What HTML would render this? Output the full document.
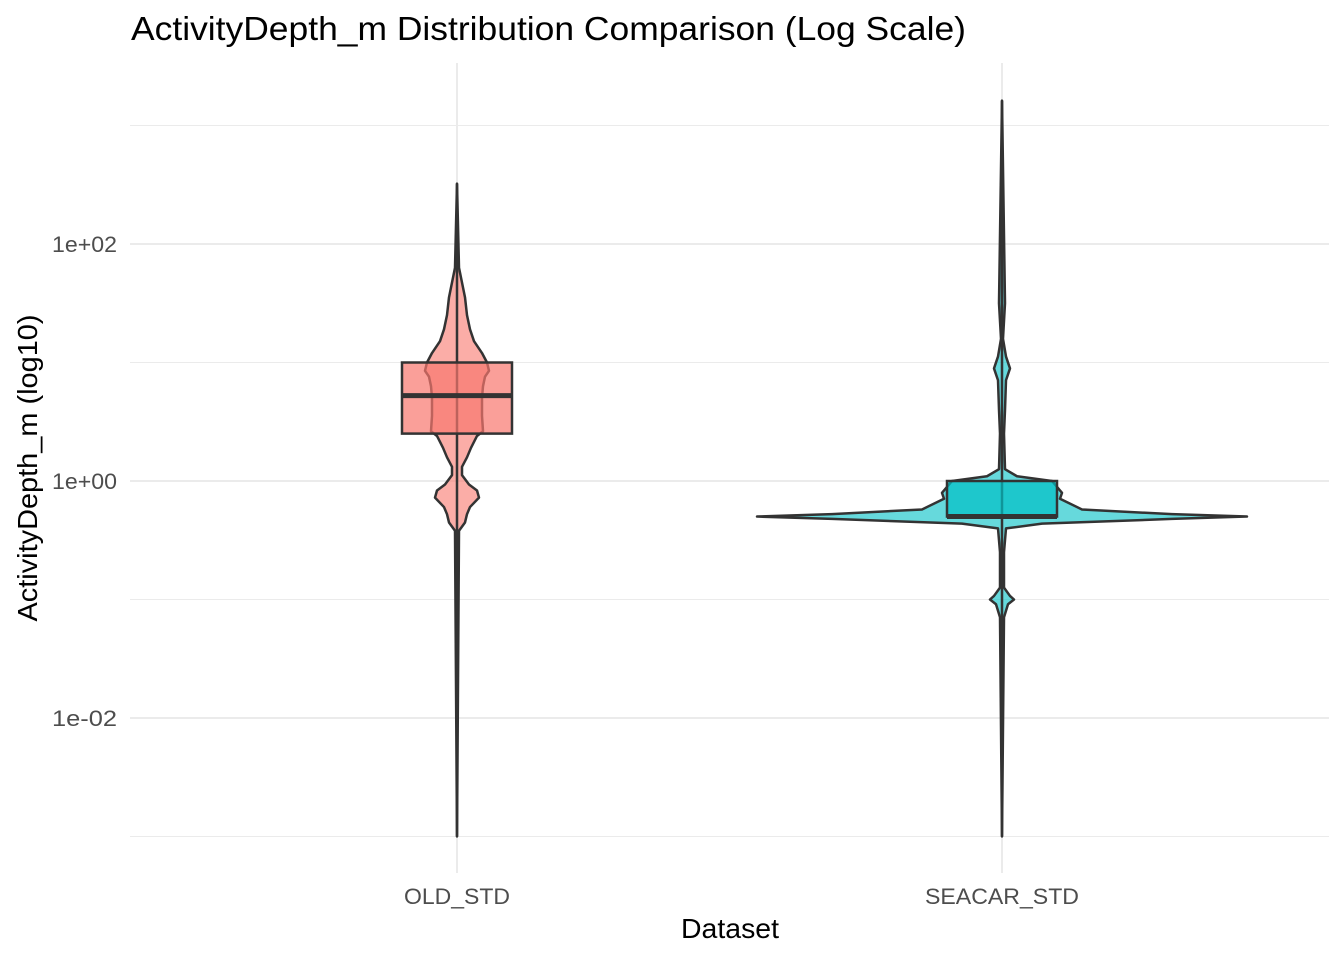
<!DOCTYPE html>
<html><head><meta charset="utf-8"><style>
body{margin:0;background:#fff;font-family:"Liberation Sans",sans-serif}
</style></head><body>
<svg id="c" width="1344" height="960" xmlns="http://www.w3.org/2000/svg">
<text x="131" y="40" font-size="33" textLength="835" lengthAdjust="spacingAndGlyphs" fill="#000">ActivityDepth_m Distribution Comparison (Log Scale)</text>
<text x="730" y="938" font-size="28" textLength="98" lengthAdjust="spacingAndGlyphs" text-anchor="middle" fill="#000">Dataset</text>
<text transform="translate(37,468) rotate(-90)" font-size="28" textLength="307" lengthAdjust="spacingAndGlyphs" text-anchor="middle" fill="#000">ActivityDepth_m (log10)</text>
<g id="grid"></g><g id="marks"></g><g id="ticks"></g>
</svg>
<script>
const categories=["OLD_STD","SEACAR_STD"];
const majorTicks=[2,0,-2];
const tickLabels=["1e+02","1e+00","1e-02"];
const minorTicks=[3,1,-1,-3];
const oldProfile=[[2.51,0],[1.8,2],[1.55,8],[1.4,10],[1.28,13],[1.18,17],[1.08,25],[1.0,30],[0.93,32],[0.88,28],[0.8,26],[0.7,25],[0.55,25],[0.42,26],[0.38,20],[0.28,14],[0.2,10],[0.12,5],[0.05,5],[-0.03,12],[-0.08,20],[-0.14,22],[-0.22,13],[-0.28,10],[-0.35,8],[-0.42,2],[-3.0,0]];
const seacarProfile=[[3.21,0],[1.5,3],[1.2,1],[1.05,4],[0.95,8],[0.85,4],[0.6,3],[0.4,2],[0.1,3],[0.04,15],[0.0,50],[-0.1,60],[-0.15,58],[-0.24,80],[-0.28,170],[-0.3,245],[-0.32,170],[-0.36,40],[-0.4,4],[-0.6,2],[-0.9,2],[-0.97,8],[-1.0,12],[-1.04,6],[-1.15,2],[-3.0,0]];
const boxQ1=[0.40,-0.30];
const boxMedian=[0.72,-0.30];
const boxQ3=[1.0,0.0];
const whiskerMin=[-3.0,-3.0];
const whiskerMax=[2.51,3.21];
const fills=["#F8766D","#00BFC4"];
const profiles=[oldProfile,seacarProfile];

const NS="http://www.w3.org/2000/svg";
const y=v=>481-v*118.5;
const x=i=>457+i*545;
const L=130,R=1329;
function mk(tag,attrs,parent){const e=document.createElementNS(NS,tag);for(const k in attrs)e.setAttribute(k,attrs[k]);document.getElementById(parent).appendChild(e);return e;}
minorTicks.forEach(t=>{const e=mk("line",{x1:L,x2:R,y1:y(t),y2:y(t),stroke:"#ebebeb","stroke-width":1},"grid");

});
majorTicks.forEach((t,i)=>{const e=mk("line",{x1:L,x2:R,y1:y(t),y2:y(t),stroke:"#ebebeb","stroke-width":2},"grid");


const tx=mk("text",{x:117,y:y(t)+8,"font-size":22,textLength:65,lengthAdjust:"spacingAndGlyphs","text-anchor":"end",fill:"#4d4d4d"},"ticks");tx.textContent=tickLabels[i];

});
const xLabelW=[106,154];
categories.forEach((c,i)=>{const g=mk("line",{x1:x(i),x2:x(i),y1:63,y2:873,stroke:"#ebebeb","stroke-width":2},"grid");


const tx=mk("text",{x:x(i),y:904,"font-size":22,textLength:xLabelW[i],lengthAdjust:"spacingAndGlyphs","text-anchor":"middle",fill:"#4d4d4d"},"ticks");tx.textContent=c;


const p=profiles[i];
let d="M"+p.map(q=>(x(i)+q[1])+","+y(q[0])).join(" L");
d+=" L"+p.slice().reverse().map(q=>(x(i)-q[1])+","+y(q[0])).join(" L")+"Z";
const v=mk("path",{d:d,fill:fills[i],"fill-opacity":0.6,stroke:"#333","stroke-width":2.5,"stroke-linejoin":"round"},"marks");


const w=mk("line",{x1:x(i),x2:x(i),y1:y(whiskerMax[i]),y2:y(whiskerMin[i]),stroke:"#333","stroke-width":2.5},"marks");


const b=mk("rect",{x:x(i)-55,y:y(boxQ3[i]),width:110,height:y(boxQ1[i])-y(boxQ3[i]),fill:fills[i],"fill-opacity":0.7,stroke:"#333","stroke-width":2.5},"marks");


const m=mk("line",{x1:x(i)-55,x2:x(i)+55,y1:y(boxMedian[i]),y2:y(boxMedian[i]),stroke:"#333","stroke-width":5},"marks");


});
</script>
</body></html>
